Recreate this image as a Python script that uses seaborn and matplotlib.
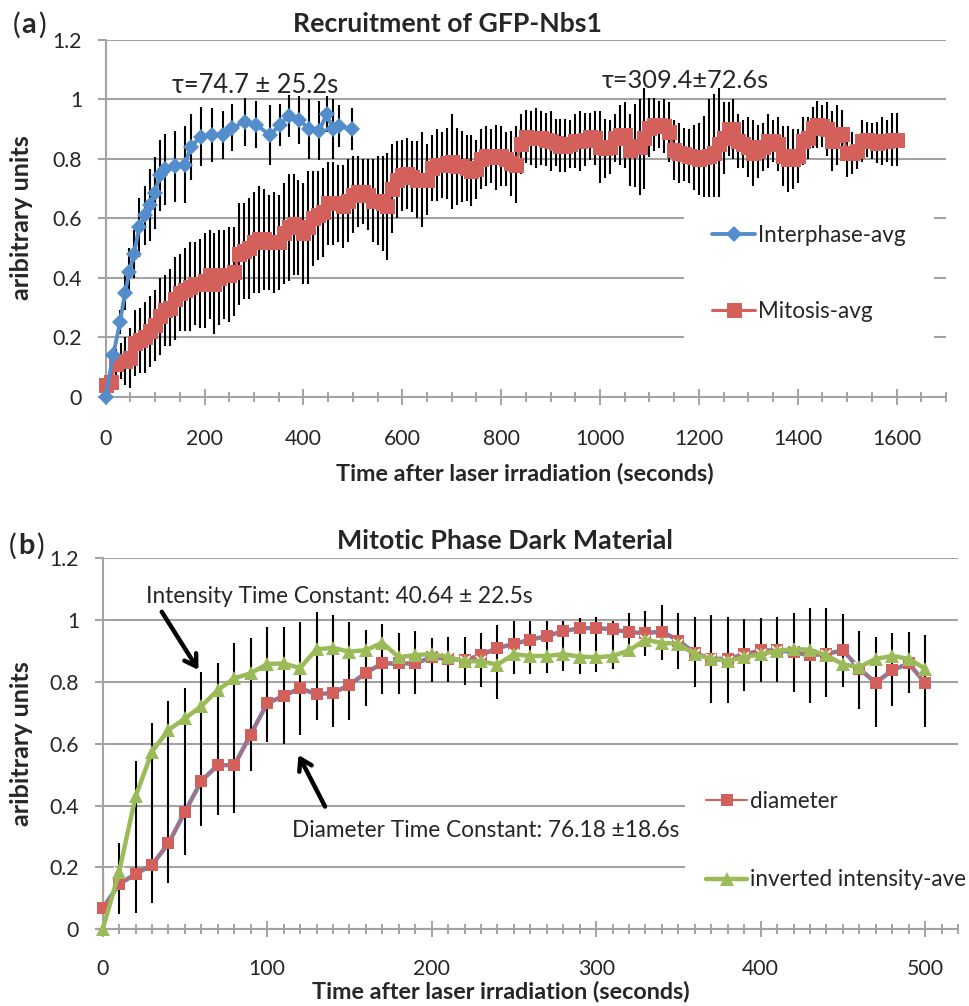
import matplotlib
matplotlib.use("Agg")
import matplotlib.pyplot as plt
import seaborn as sns
import numpy as np
import pandas as pd
from matplotlib.lines import Line2D
from matplotlib.ticker import MultipleLocator, FuncFormatter
from matplotlib.offsetbox import TextArea, HPacker, AnnotationBbox

# ---------------- Panel (a) data ----------------
interphase_t = [0, 15, 29, 39, 48, 57, 68, 79, 89, 99, 110, 120, 140, 160, 172, 192,
                216, 238, 256, 282, 305, 332, 353, 370, 392, 412, 432, 447, 460, 472, 498]
interphase_v = [0.0, 0.14, 0.25, 0.35, 0.42, 0.48, 0.57, 0.61, 0.645, 0.685, 0.745, 0.765,
                0.775, 0.78, 0.84, 0.875, 0.88, 0.88, 0.905, 0.925, 0.915, 0.88, 0.915,
                0.945, 0.93, 0.9, 0.895, 0.95, 0.9, 0.91, 0.9]
interphase_err = [0.0, 0.02, 0.04, 0.06, 0.08, 0.08, 0.1, 0.1, 0.12, 0.12, 0.12, 0.12, 0.12,
                  0.13, 0.11, 0.1, 0.09, 0.08, 0.08, 0.08, 0.08, 0.1, 0.07, 0.07, 0.08, 0.1,
                  0.1, 0.06, 0.1, 0.07, 0.07]

mitosis_t = list(range(0, 1610, 10))
mitosis_v = [
    0.04, 0.05, 0.11, 0.12, 0.12, 0.13, 0.18, 0.19, 0.20, 0.22,
    0.24, 0.27, 0.29, 0.30, 0.33, 0.35, 0.36, 0.37, 0.38, 0.38,
    0.39, 0.41, 0.38, 0.40, 0.41, 0.41, 0.42, 0.48, 0.49, 0.50,
    0.52, 0.53, 0.53, 0.52, 0.52, 0.52, 0.55, 0.57, 0.58, 0.57,
    0.55, 0.57, 0.60, 0.61, 0.62, 0.65, 0.65, 0.65, 0.64, 0.66,
    0.68, 0.69, 0.69, 0.68, 0.66, 0.66, 0.65, 0.64, 0.70, 0.73,
    0.745, 0.75, 0.74, 0.73, 0.73, 0.73, 0.77, 0.78, 0.78, 0.785,
    0.79, 0.775, 0.775, 0.77, 0.76, 0.765, 0.80, 0.81, 0.81, 0.805,
    0.81, 0.80, 0.785, 0.78, 0.85, 0.875, 0.87, 0.87, 0.87, 0.865,
    0.86, 0.855, 0.845, 0.845, 0.85, 0.86, 0.86, 0.865, 0.875, 0.87,
    0.84, 0.835, 0.84, 0.87, 0.88, 0.88, 0.83, 0.845, 0.84, 0.87,
    0.905, 0.915, 0.915, 0.91, 0.89, 0.83, 0.82, 0.815, 0.81, 0.805,
    0.80, 0.805, 0.81, 0.82, 0.85, 0.87, 0.90, 0.90, 0.86, 0.85,
    0.84, 0.82, 0.825, 0.84, 0.86, 0.86, 0.85, 0.81, 0.80, 0.80,
    0.81, 0.86, 0.87, 0.905, 0.915, 0.91, 0.90, 0.86, 0.88, 0.885,
    0.82, 0.82, 0.825, 0.86, 0.865, 0.86, 0.855, 0.86, 0.86, 0.865,
    0.865]
mitosis_err = [
    0.02, 0.03, 0.05, 0.06, 0.08, 0.10, 0.11, 0.11, 0.12, 0.12,
    0.12, 0.13, 0.12, 0.13, 0.14, 0.13, 0.14, 0.15, 0.14, 0.15,
    0.16, 0.15, 0.17, 0.16, 0.15, 0.16, 0.15, 0.17, 0.16, 0.17,
    0.17, 0.18, 0.17, 0.16, 0.17, 0.16, 0.17, 0.18, 0.17, 0.16,
    0.17, 0.19, 0.16, 0.15, 0.15, 0.14, 0.14, 0.13, 0.14, 0.14,
    0.13, 0.12, 0.11, 0.12, 0.14, 0.15, 0.16, 0.18, 0.15, 0.13,
    0.12, 0.12, 0.12, 0.13, 0.16, 0.12, 0.11, 0.12, 0.11, 0.12,
    0.16, 0.13, 0.12, 0.11, 0.12, 0.10, 0.10, 0.10, 0.09, 0.11,
    0.10, 0.09, 0.11, 0.13, 0.10, 0.09, 0.09, 0.10, 0.09, 0.09,
    0.10, 0.08, 0.09, 0.09, 0.08, 0.09, 0.10, 0.09, 0.08, 0.09,
    0.12, 0.10, 0.09, 0.08, 0.10, 0.11, 0.12, 0.14, 0.16, 0.17,
    0.10, 0.09, 0.08, 0.09, 0.10, 0.10, 0.10, 0.09, 0.09, 0.11,
    0.12, 0.14, 0.19, 0.20, 0.19, 0.12, 0.09, 0.10, 0.09, 0.08,
    0.10, 0.11, 0.09, 0.08, 0.09, 0.07, 0.09, 0.10, 0.11, 0.10,
    0.09, 0.08, 0.07, 0.07, 0.08, 0.07, 0.09, 0.10, 0.10, 0.08,
    0.08, 0.07, 0.06, 0.07, 0.06, 0.06, 0.07, 0.08, 0.07, 0.09,
    0.09]

# ---------------- Panel (b) data ----------------
dark_t = list(range(0, 510, 10))
diameter_v = [0.068, 0.146, 0.179, 0.208, 0.278, 0.38, 0.48, 0.531, 0.531, 0.63,
              0.731, 0.755, 0.78, 0.76, 0.765, 0.79, 0.83, 0.86, 0.86, 0.86,
              0.88, 0.875, 0.87, 0.887, 0.91, 0.923, 0.937, 0.948, 0.965, 0.973,
              0.975, 0.97, 0.961, 0.958, 0.963, 0.934, 0.893, 0.875, 0.875, 0.889,
              0.902, 0.902, 0.897, 0.886, 0.891, 0.902, 0.843, 0.797, 0.838, 0.86,
              0.797]
intensity_v = [0.0, 0.186, 0.43, 0.575, 0.645, 0.682, 0.722, 0.774, 0.812, 0.828,
               0.858, 0.86, 0.845, 0.906, 0.91, 0.898, 0.903, 0.927, 0.88, 0.887,
               0.89, 0.88, 0.867, 0.867, 0.856, 0.89, 0.884, 0.884, 0.89, 0.882,
               0.88, 0.884, 0.902, 0.937, 0.926, 0.924, 0.889, 0.875, 0.868, 0.88,
               0.89, 0.9, 0.907, 0.904, 0.886, 0.857, 0.848, 0.875, 0.884, 0.875,
               0.843]
bar_hi = [0.181, 0.28, 0.545, 0.668, 0.738, 0.781, 0.833, 0.86, 0.925, 0.941,
          0.979, 0.979, 0.995, 1.027, 1.017, 0.995, 0.968, 0.987, 0.957, 0.966,
          0.941, 0.946, 0.944, 0.957, 0.984, 0.998, 0.998, 0.998, 0.998, 1.006,
          1.011, 0.998, 1.022, 1.029, 1.049, 1.022, 1.011, 1.017, 1.011, 1.003,
          1.006, 1.011, 1.022, 1.038, 1.038, 1.02, 0.966, 0.944, 0.959, 0.963,
          0.952]
bar_lo = [0.008, 0.05, 0.054, 0.086, 0.149, 0.24, 0.334, 0.37, 0.375, 0.513,
          0.607, 0.60, 0.628, 0.677, 0.655, 0.677, 0.722, 0.761, 0.761, 0.761,
          0.80, 0.80, 0.79, 0.785, 0.744, 0.825, 0.825, 0.83, 0.836, 0.827,
          0.832, 0.841, 0.893, 0.884, 0.871, 0.841, 0.783, 0.733, 0.733, 0.772,
          0.80, 0.80, 0.768, 0.731, 0.75, 0.785, 0.711, 0.653, 0.722, 0.765,
          0.653]

yticks = [0, 0.2, 0.4, 0.6, 0.8, 1.0, 1.2]

BLUE = "#548DCC"
RED = "#D4605B"
GREEN = "#9BBB59"
PURPLE = "#8064A2"
GRID = "#A3A3A3"

sns.set_style("white")
plt.rcParams["font.family"] = ["Lato", "DejaVu Sans"]

W, H = 970, 1006
fig = plt.figure(figsize=(W / 100, H / 100), dpi=100)
renderer = fig.canvas.get_renderer()


def fit_size(s, target_px, weight="normal", base=15.0):
    t = fig.text(0, 0, s, fontsize=base, fontweight=weight)
    w = t.get_window_extent(renderer).width
    t.remove()
    return base * target_px / w


TAU_A = "τ=74.7 ± 25.2s"
TAU_B = "τ=309.4±72.6s"
TICKFS = fit_size("1600", 49.5)
ANNFS = fit_size("Intensity Time Constant: 40.64 ± 22.5s", 387)
TAUFS_A = fit_size(TAU_A, 167)
TAUFS_B = fit_size(TAU_B, 168)
LEGFS = fit_size("Interphase-avg", 148)
TITLEFS_A = fit_size("Recruitment of GFP-Nbs1", 310, "bold")
TITLEFS_B = fit_size("Mitotic Phase Dark Material", 337, "bold")
XLABFS = fit_size("Time after laser irradiation (seconds)", 380, "bold")
YLABFS = fit_size("aribitrary units", 165, "bold")
PANELFS = fit_size("(a)", 30)


def frac_axes(left, top, right, bottom):
    return fig.add_axes([left / W, 1 - bottom / H, (right - left) / W, (bottom - top) / H])


ax1 = frac_axes(105.7, 40.0, 946.0, 396.7)
ax2 = frac_axes(102.7, 558.3, 958.0, 929.3)


def style(ax, xmax, major, minor, xpad):
    ax.set_xlim(0, xmax)
    ax.set_ylim(0, 1.2)
    ax.set_yticks(yticks)
    ax.yaxis.set_major_formatter(FuncFormatter(lambda v, p: f"{v:g}"))
    ax.xaxis.set_major_locator(MultipleLocator(major))
    ax.xaxis.set_minor_locator(MultipleLocator(minor))
    ax.grid(axis="y", color=GRID, lw=1.5)
    ax.grid(axis="x", visible=False)
    ax.set_axisbelow(True)
    for s in ["top", "right"]:
        ax.spines[s].set_visible(False)
    for s in ["left", "bottom"]:
        ax.spines[s].set_color(GRID)
        ax.spines[s].set_linewidth(1.5)
    ax.tick_params(axis="y", direction="out", length=5.5, width=1.5, color=GRID,
                   pad=11.5, labelsize=TICKFS, left=True)
    ax.tick_params(axis="x", which="major", direction="inout", length=11, width=1.4,
                   color=GRID, labelsize=TICKFS, pad=xpad, bottom=True)
    ax.tick_params(axis="x", which="minor", direction="inout", length=7, width=1.4,
                   color=GRID, bottom=True)
    ax.set_xlabel("")
    ax.set_ylabel("")


# ---------------- Panel (a) ----------------
ax1.errorbar(mitosis_t, mitosis_v, yerr=mitosis_err, fmt="none", ecolor="black",
             elinewidth=1.5, capsize=0, zorder=2, clip_on=False)
ax1.errorbar(interphase_t, interphase_v, yerr=interphase_err, fmt="none", ecolor="black",
             elinewidth=1.5, capsize=0, zorder=2, clip_on=False)
sns.lineplot(x=mitosis_t, y=mitosis_v, ax=ax1, color=RED, marker="s", markersize=10.8,
             markeredgewidth=0, linewidth=2.2, sort=False, estimator=None, legend=False,
             zorder=3, clip_on=False)
sns.lineplot(x=interphase_t, y=interphase_v, ax=ax1, color=BLUE, marker="D", markersize=8.2,
             markeredgewidth=0, linewidth=2.8, sort=False, estimator=None, legend=False,
             zorder=4, clip_on=False)
style(ax1, 1700, 200, 50, 18)

ax1.text(133.5, 1.048, TAU_A, fontsize=TAUFS_A, ha="left", va="center")
ax1.text(1003, 1.065, TAU_B, fontsize=TAUFS_B, ha="left", va="center")

# ---------------- Panel (b) ----------------
ax2.vlines(dark_t, bar_lo, bar_hi, colors="black", lw=1.5, zorder=2)
sns.lineplot(x=dark_t, y=diameter_v, ax=ax2, color=BLUE, marker="D", markersize=5,
             markeredgewidth=0, linewidth=3.2, sort=False, estimator=None, legend=False,
             zorder=3, clip_on=False)
sns.lineplot(x=dark_t, y=diameter_v, ax=ax2, color=RED, marker="s", markersize=8.5,
             markeredgewidth=0, linewidth=1.5, sort=False, estimator=None, legend=False,
             zorder=4, clip_on=False)
sns.lineplot(x=dark_t, y=intensity_v, ax=ax2, color=PURPLE, marker="x", markersize=7.5,
             markeredgewidth=1.3, linewidth=1.4, linestyle=(0, (2, 2)), sort=False,
             estimator=None, legend=False, zorder=5, clip_on=False)
sns.lineplot(x=dark_t, y=intensity_v, ax=ax2, color=GREEN, marker="^", markersize=10,
             markeredgewidth=0, linewidth=3.2, sort=False, estimator=None, legend=False,
             zorder=6, clip_on=False)
style(ax2, 520, 100, 10, 16)

ax2.text(26.3, 1.076, "Intensity Time Constant: 40.64 ± 22.5s", fontsize=ANNFS,
         ha="left", va="center")
ax2.text(115.3, 0.321, "Diameter Time Constant: 76.18 ±18.6s", fontsize=ANNFS,
         ha="left", va="center")
arrow_kw = dict(arrowstyle="->,head_length=0.8,head_width=0.5", lw=3.2, color="black",
                shrinkA=0, shrinkB=0)
ax2.annotate("", xy=(58.2, 0.839), xytext=(35.9, 1.027), arrowprops=arrow_kw)
ax2.annotate("", xy=(119, 0.564), xytext=(135.2, 0.397), arrowprops=arrow_kw)


# ---------------- Legends (positioned to match the reference in pixels) ----------------
def place_legend(ax, handles, labels, text_x, y1, y2, line_px, pad_px):
    fs_px = LEGFS * 100 / 72
    ax_bb = ax.get_window_extent(renderer)
    ax_x0, ax_w, ax_h = ax_bb.x0, ax_bb.width, ax_bb.height
    ls = (y2 - y1) / fs_px - 1.2
    anchor_x = (text_x - line_px - pad_px - ax_x0) / ax_w
    anchor_y = (H - (y1 + y2) / 2 - ax_bb.y0) / ax_h
    leg = None
    for _ in range(4):
        if leg is not None:
            leg.remove()
        leg = ax.legend(handles, labels, loc="center left", bbox_to_anchor=(anchor_x, anchor_y),
                        borderaxespad=0, fontsize=LEGFS, frameon=True, facecolor="white",
                        edgecolor="none", framealpha=1, fancybox=False,
                        handlelength=line_px / fs_px, handletextpad=3 / fs_px,
                        labelspacing=ls, borderpad=pad_px / fs_px)
        fig.canvas.draw()
        b1 = leg.get_texts()[0].get_window_extent(renderer)
        b2 = leg.get_texts()[1].get_window_extent(renderer)
        c1 = H - (b1.y0 + b1.y1) / 2
        c2 = H - (b2.y0 + b2.y1) / 2
        ls += ((y2 - y1) - (c2 - c1)) / fs_px
        anchor_y += ((c1 + c2) / 2 - (y1 + y2) / 2) / ax_h
        anchor_x += (text_x - b1.x0) / ax_w
    return leg


h1 = [Line2D([], [], color=BLUE, marker="D", markersize=8.2, markeredgewidth=0, lw=2.8),
      Line2D([], [], color=RED, marker="s", markersize=10.8, markeredgewidth=0, lw=2.2)]
place_legend(ax1, h1, ["Interphase-avg", "Mitosis-avg"], 758.3, 235, 311.7, 43, 28)

h2 = [Line2D([], [], color=RED, marker="s", markersize=8.5, markeredgewidth=0, lw=1.5),
      Line2D([], [], color=GREEN, marker="^", markersize=10, markeredgewidth=0, lw=3.2)]
place_legend(ax2, h2, ["diameter", "inverted intensity-ave"], 750, 801.7, 880, 41, 21)

# ---------------- Figure texts ----------------
fig.text(447.9 / W, 1 - 24 / H, "Recruitment of GFP-Nbs1", ha="center", va="center",
         fontsize=TITLEFS_A, fontweight="bold")
fig.text(505 / W, 1 - 541 / H, "Mitotic Phase Dark Material", ha="center", va="center",
         fontsize=TITLEFS_B, fontweight="bold")
fig.text(525 / W, 1 - 473 / H, "Time after laser irradiation (seconds)", ha="center",
         va="center", fontsize=XLABFS, fontweight="bold")
fig.text(501 / W, 1 - 991.7 / H, "Time after laser irradiation (seconds)", ha="center",
         va="center", fontsize=XLABFS, fontweight="bold")
fig.text(22 / W, 1 - 218 / H, "aribitrary units", ha="center", va="center",
         rotation=90, fontsize=YLABFS, fontweight="bold")
fig.text(22 / W, 1 - 744 / H, "aribitrary units", ha="center", va="center",
         rotation=90, fontsize=YLABFS, fontweight="bold")


def panel_label(letter, x, y):
    box = HPacker(children=[TextArea("(", textprops=dict(fontsize=PANELFS)),
                            TextArea(letter, textprops=dict(fontsize=PANELFS, fontweight="bold")),
                            TextArea(")", textprops=dict(fontsize=PANELFS))],
                  pad=0, sep=1, align="baseline")
    ab = AnnotationBbox(box, (x / W, 1 - y / H), xycoords="figure fraction",
                        frameon=False, box_alignment=(0, 0.5), pad=0)
    fig.add_artist(ab)


panel_label("a", 12.7, 25)
panel_label("b", 9, 546)

fig.savefig("out.png", dpi=100)
